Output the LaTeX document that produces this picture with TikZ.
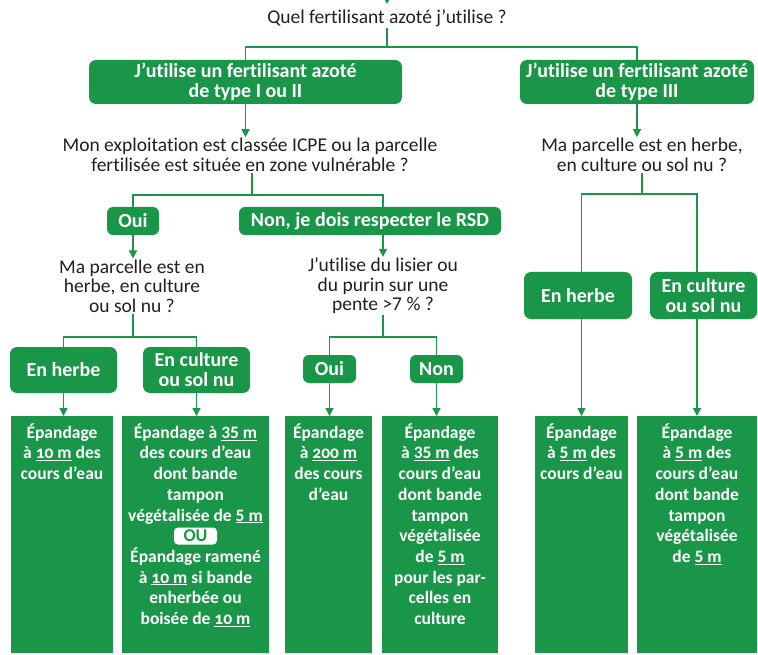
\documentclass[tikz,border=0pt]{standalone}
\usepackage{fontspec}
\setmainfont{Carlito}[Ligatures=NoCommon]
\usetikzlibrary{arrows.meta,calc}
\definecolor{vert}{RGB}{26,150,72}
\definecolor{txt}{RGB}{35,31,32}
\newcommand\osf[1]{{\addfontfeatures{Numbers=OldStyle}#1}}
\newcommand\ecell[2]{\parbox[t][237pt][t]{#1}{\centering\fontsize{17.5}{20.7}\selectfont\bfseries\rule{0pt}{22pt}#2}}
\begin{document}
\begin{tikzpicture}[x=1pt,y=-1pt,
  line/.style={draw=vert, line width=1.4pt},
  arr/.style={line, -{Triangle[width=8pt,length=8pt]}},
  gbox/.style={fill=vert, rounded corners=7pt, text=white, font=\fontsize{20}{20}\selectfont\bfseries, align=center, inner sep=0pt},
  quest/.style={text=txt, font=\fontsize{19.5}{19.5}\selectfont, align=center, inner sep=1pt},
  ebox/.style={fill=vert, text=white, inner sep=0pt, anchor=north},
]
\clip (0,0) rectangle (758,655);
\fill[white] (0,0) rectangle (758,655);

% top
\coordinate (topin) at (387,-15);
\coordinate (toptip) at (387,4);
\draw[arr] (topin) -- (toptip);
\node[quest] (title) at (387,18) {Quel fertilisant azoté j’utilise ?};

% level 1
\node[gbox, minimum width=313pt, minimum height=44pt] (b1) at (245.5,82) {J’utilise un fertilisant azoté\\de type I ou II};
\node[gbox, minimum width=234pt, minimum height=44pt] (b2) at (637,82) {J’utilise un fertilisant azoté\\de type III};
\coordinate (j1) at (387,47);
\draw[line] (title.south) -- (j1);
\draw[line] (b1.north) |- (j1) -| (b2.north);

% questions
\node[quest] (q1) at (250,155) {Mon exploitation est classée ICPE ou la parcelle\\fertilisée est située en zone vulnérable ?};
\node[quest] (q4) at (642,155) {Ma parcelle est en herbe,\\en culture ou sol nu ?};
\draw[arr] (b1.south) -- (b1.south |- q1.north);
\draw[arr] (b2.south) -- (b2.south |- q4.north);

% oui / non
\node[gbox, minimum width=52pt, minimum height=28pt, rounded corners=6pt] (oui1) at (133,221) {Oui};
\node[gbox, minimum width=262pt, minimum height=28pt, rounded corners=6pt] (non1) at (370,221) {Non, je dois respecter le RSD};
\coordinate (j2) at (252,195);
\coordinate (n1x) at (383,207);
\draw[line] (j2 |- q1.south) -- (j2);
\draw[line] (oui1.north) |- (j2) -| (n1x);

\node[quest] (q2) at (132,286) {Ma parcelle est en\\herbe, en culture\\ou sol nu ?};
\node[quest] (q3) at (383,286) {J’utilise du lisier ou\\du purin sur une\\pente >7~\% ?};
\draw[arr] (oui1.south) -- (oui1.south |- q2.north);
\draw[arr] (n1x |- non1.south) -- (n1x |- q3.north);

% third level
\node[gbox, minimum width=107pt, minimum height=46pt] (h1) at (63.5,370) {En herbe};
\node[gbox, minimum width=107pt, minimum height=46pt] (c1) at (196.5,370) {En culture\\ou sol nu};
\node[gbox, minimum width=53pt, minimum height=28pt, rounded corners=6pt] (oui2) at (329.5,369) {Oui};
\node[gbox, minimum width=53pt, minimum height=28pt, rounded corners=6pt] (non2) at (436.5,369) {Non};
\node[gbox, minimum width=108pt, minimum height=47pt] (h2) at (578,295.5) {En herbe};
\node[gbox, minimum width=107pt, minimum height=47pt] (c2) at (703.5,295.5) {En culture\\ou sol nu};

% final boxes
\node[ebox] (e1) at (62,416) {\ecell{102pt}{Épandage\\à \underline{\osf{10} m} des\\cours d’eau}};
\node[ebox] (e2) at (195.5,416) {\ecell{147pt}{Épandage à \underline{35 m}\\des cours d’eau\\dont bande\\tampon\\végétalisée de \underline{5 m}\\[20.7pt]Épandage ramené\\à \underline{\osf{10} m} si bande\\enherbée ou\\boisée de \underline{\osf{10} m}}};
\node[ebox] (e3) at (328.5,416) {\ecell{87pt}{Épandage\\à \underline{\osf{200} m}\\des cours\\d’eau}};
\node[ebox] (e4) at (440,416) {\ecell{116pt}{Épandage\\à \underline{35 m} des\\cours d’eau\\dont bande\\tampon\\végétalisée\\de \underline{5 m}\\pour les par-\\celles en\\culture}};
\node[ebox] (e5) at (581.5,416) {\ecell{93pt}{Épandage\\à \underline{5 m} des\\cours d’eau}};
\node[ebox] (e6) at (697,416) {\ecell{120pt}{Épandage\\à \underline{5 m} des\\cours d’eau\\dont bande\\tampon\\végétalisée\\de \underline{5 m}}};
\node[fill=white, rounded corners=4pt, text=vert, font=\fontsize{18}{18}\selectfont\bfseries, minimum width=43pt, minimum height=17pt, inner sep=0pt] (ou) at ($(e2.north)+(0,120)$) {OU};

% connectors to final boxes
\coordinate (j3) at (133,337);
\draw[line] (j3 |- q2.south) -- (j3);
\draw[line] (h1.north) |- (j3) -| (c1.north);
\draw[arr] (h1.south) -- (h1.south |- e1.north);
\draw[arr] (c1.south) -- (c1.south |- e2.north);

\coordinate (j4) at (383,337);
\draw[line] (j4 |- q3.south) -- (j4);
\draw[line] (oui2.north) |- (j4) -| (non2.north);
\draw[arr] (oui2.south) -- (oui2.south |- e3.north);
\draw[arr] (non2.south) -- (non2.south |- e4.north);

\coordinate (j5) at (642,194);
\draw[line] (j5 |- q4.south) -- (j5);
\draw[line] (e5.north |- h2.north) |- (j5) -| (e6.north |- c2.north);
\draw[arr] (e5.north |- h2.south) -- (e5.north);
\draw[arr] (e6.north |- c2.south) -- (e6.north);
\end{tikzpicture}
\end{document}
